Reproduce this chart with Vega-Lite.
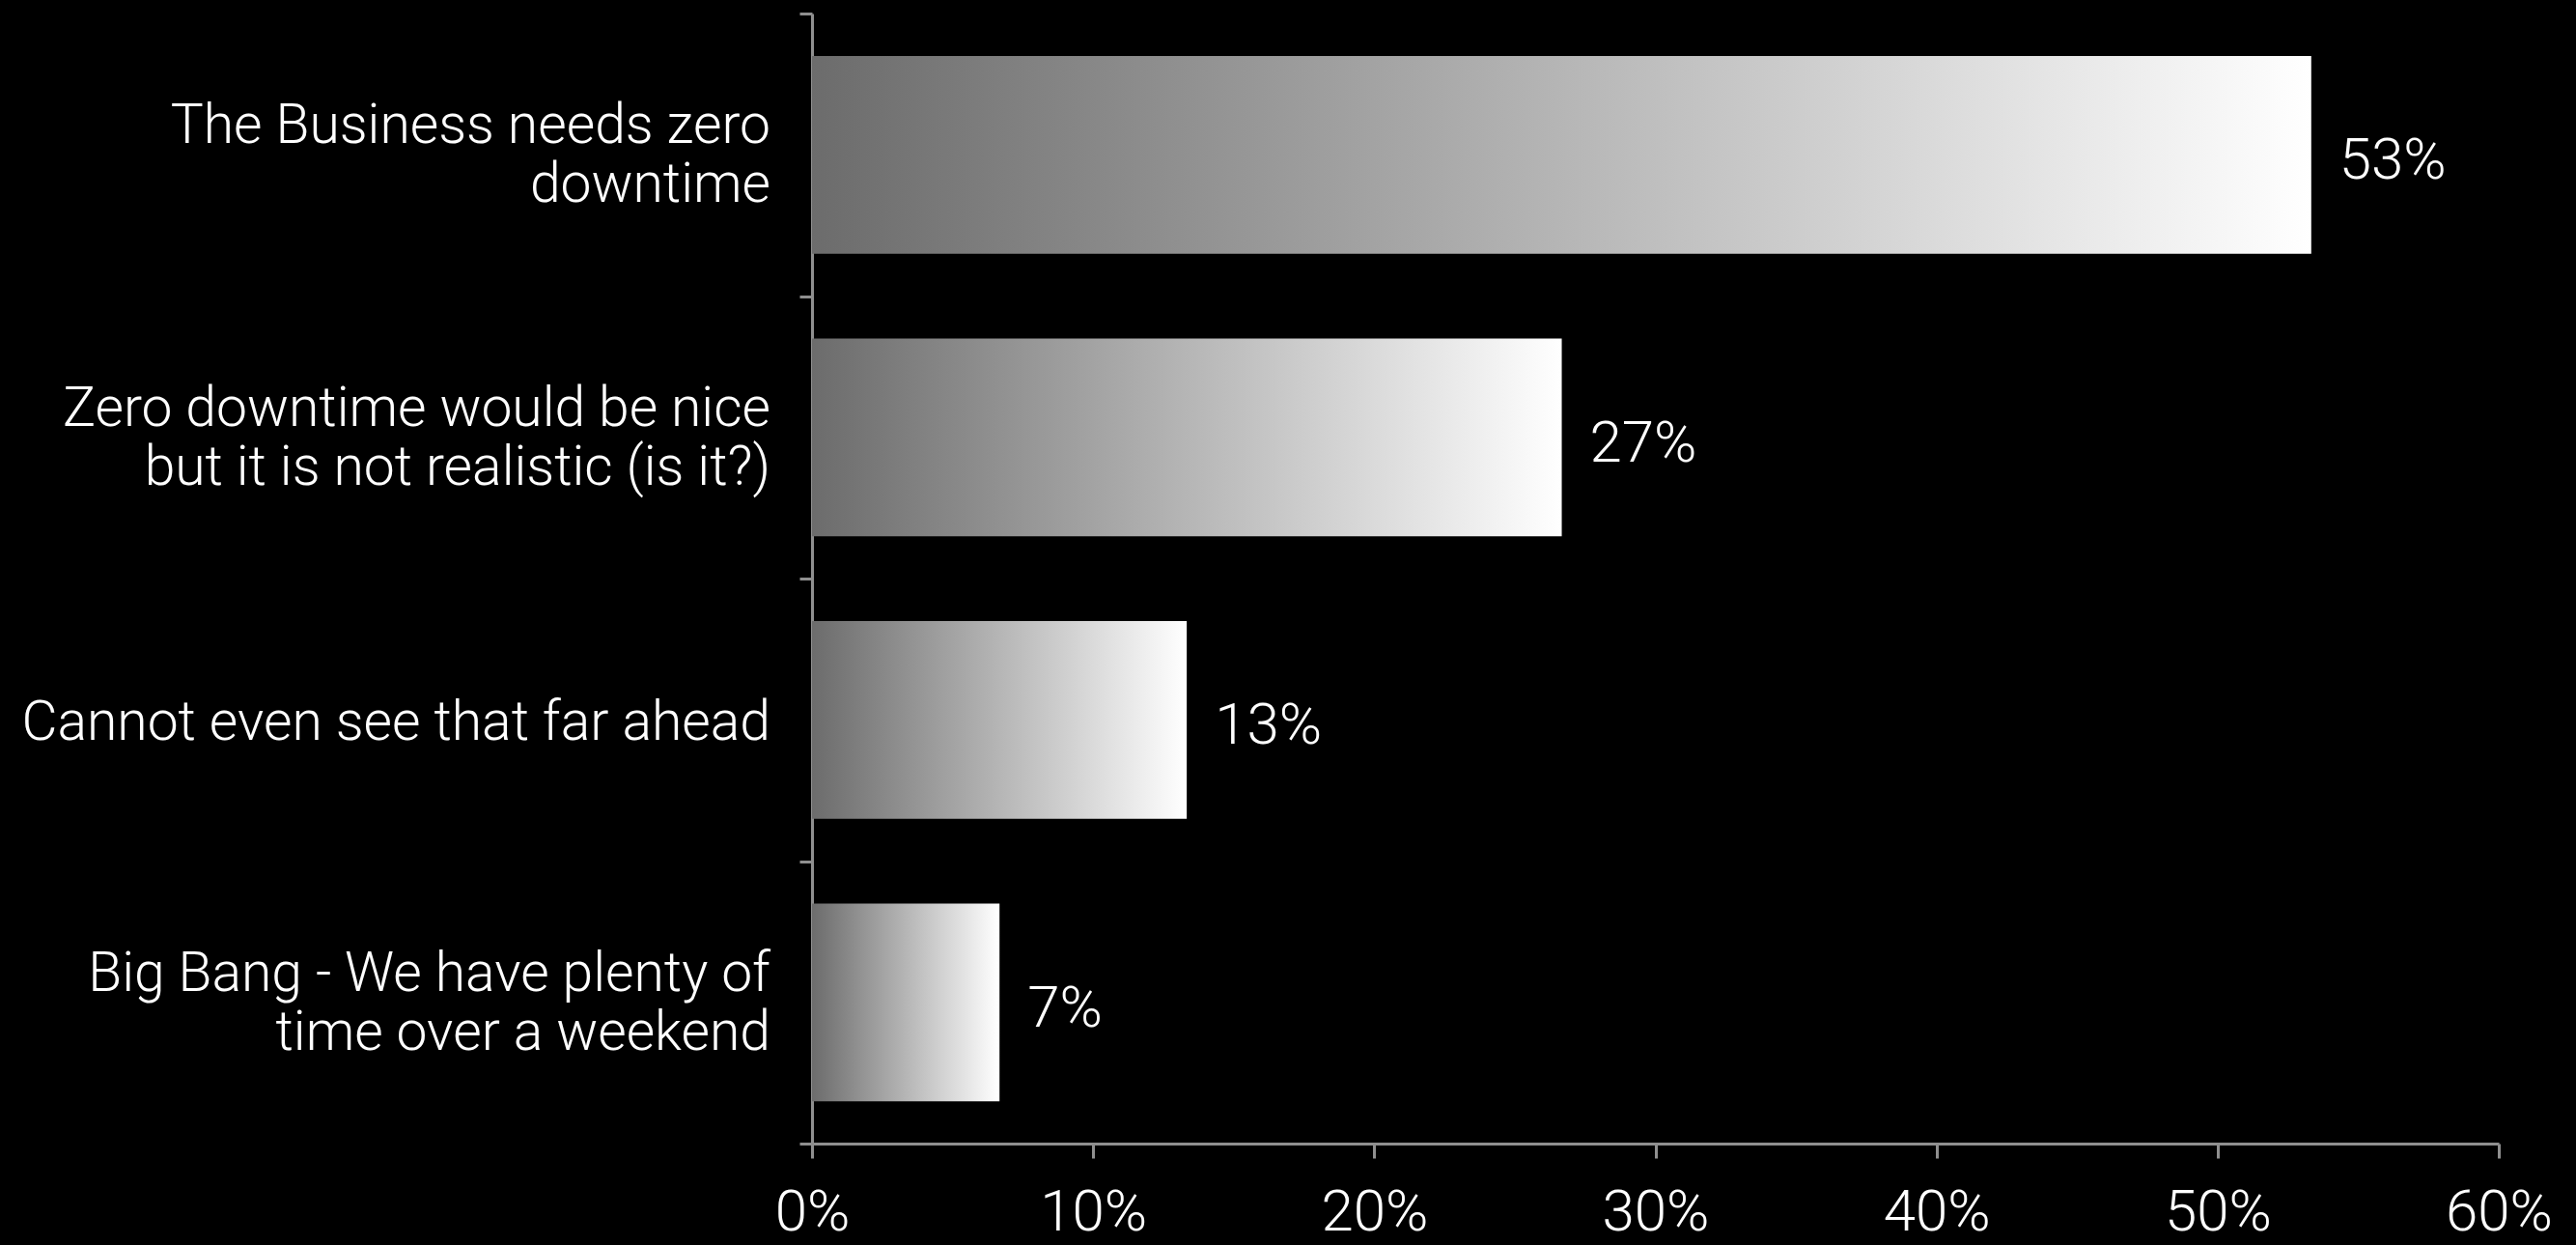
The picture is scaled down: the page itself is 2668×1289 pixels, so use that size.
{
  "$schema": "https://vega.github.io/schema/vega-lite/v6.json",
  "autosize": {"type": "none"},
  "padding": {"left": 841, "top": 14, "right": 80, "bottom": 105},
  "width": 1747,
  "height": 1170,
  "background": "#000000",
  "config": {
    "view": {"stroke": null},
    "font": "Roboto",
    "axis": {
      "domainColor": "#8f8f8f",
      "domainWidth": 3,
      "tickColor": "#8f8f8f",
      "tickWidth": 3,
      "labelColor": "#ffffff",
      "labelFont": "Roboto",
      "labelFontWeight": 300,
      "grid": false,
      "title": null
    }
  },
  "data": {
    "values": [
      {"answer": "The Business needs zero\ndowntime", "share": 0.5333},
      {"answer": "Zero downtime would be nice\nbut it is not realistic (is it?)", "share": 0.2667},
      {"answer": "Cannot even see that far ahead", "share": 0.1333},
      {"answer": "Big Bang - We have plenty of\ntime over a weekend", "share": 0.0667}
    ]
  },
  "encoding": {
    "y": {
      "field": "answer",
      "type": "nominal",
      "sort": null,
      "scale": {"paddingInner": 0, "paddingOuter": 0},
      "axis": {
        "tickBand": "extent",
        "tickSize": 13,
        "labels": false
      }
    },
    "x": {
      "field": "share",
      "type": "quantitative",
      "scale": {"domain": [0, 0.6], "nice": false},
      "axis": {
        "values": [0, 0.1, 0.2, 0.3, 0.4, 0.5, 0.6],
        "format": ".0%",
        "tickSize": 15,
        "labelPadding": 27,
        "labelFontSize": 60,
        "labelFlush": false,
        "labelOverlap": false
      }
    }
  },
  "layer": [
    {
      "mark": {
        "type": "bar",
        "height": {"band": 0.7},
        "color": {
          "gradient": "linear",
          "x1": 0, "y1": 0, "x2": 1, "y2": 0,
          "stops": [
            {"offset": 0, "color": "#6c6c6c"},
            {"offset": 1, "color": "#ffffff"}
          ]
        }
      }
    },
    {
      "mark": {
        "type": "text",
        "align": "left",
        "baseline": "middle",
        "dx": 29,
        "dy": 7,
        "fontSize": 60,
        "fontWeight": 300,
        "color": "#ffffff"
      },
      "encoding": {
        "text": {"field": "share", "type": "quantitative", "format": ".0%"}
      }
    },
    {
      "transform": [{"filter": "indexof(datum.answer, '\\n') >= 0"}],
      "mark": {
        "type": "text",
        "align": "right",
        "baseline": "middle",
        "lineBreak": "\n",
        "lineHeight": 61,
        "dx": -43,
        "dy": -29,
        "fontSize": 57,
        "fontWeight": 300,
        "color": "#ffffff"
      },
      "encoding": {
        "x": {"datum": 0},
        "text": {"field": "answer", "type": "nominal"}
      }
    },
    {
      "transform": [{"filter": "indexof(datum.answer, '\\n') < 0"}],
      "mark": {
        "type": "text",
        "align": "right",
        "baseline": "middle",
        "dx": -43,
        "dy": 4,
        "fontSize": 57,
        "fontWeight": 300,
        "color": "#ffffff"
      },
      "encoding": {
        "x": {"datum": 0},
        "text": {"field": "answer", "type": "nominal"}
      }
    }
  ]
}
